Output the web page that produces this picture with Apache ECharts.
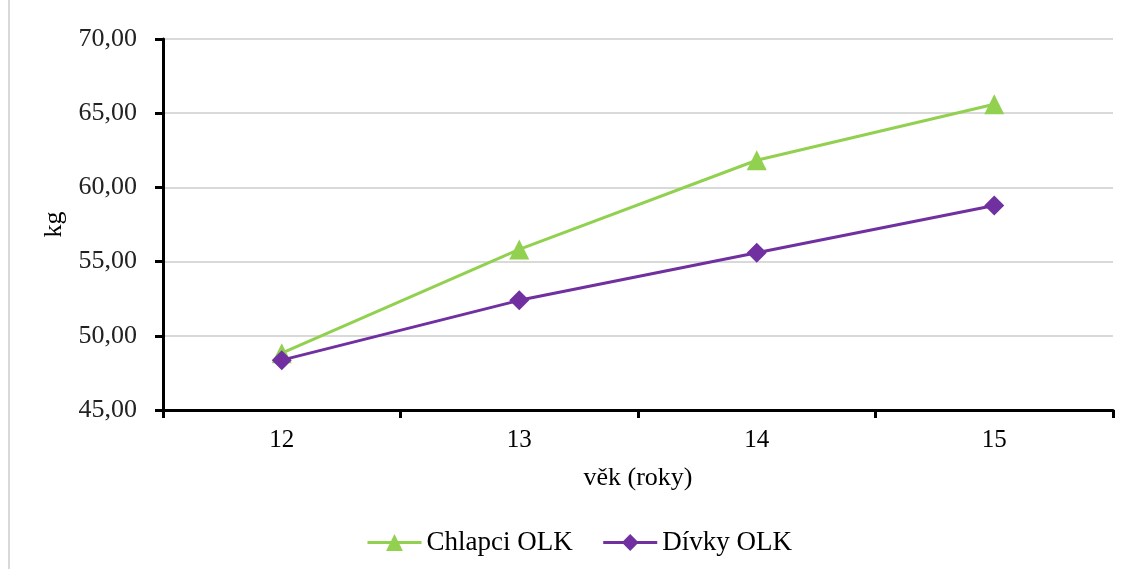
<!DOCTYPE html>
<html>
<head>
<meta charset="utf-8">
<script src="https://cdn.jsdelivr.net/npm/echarts@6/dist/echarts.min.js"></script>
<style>
  html, body { margin: 0; padding: 0; background: #fff; }
  #frame { position: absolute; left: 8px; top: 0; width: 2px; height: 569px; background: #d9d9d9; }
  #chart { position: absolute; left: 0; top: 0; width: 1132px; height: 569px; }
</style>
</head>
<body>
<div id="frame"></div>
<div id="chart"></div>
<script>
// Average body weight by age
const ages = ['12', '13', '14', '15'];
const boysWeight = [48.83, 55.82, 61.83, 65.6];
const girlsWeight = [48.36, 52.39, 55.6, 58.78];
const seriesNames = ['Chlapci OLK', 'Dívky OLK'];

const font = 'Liberation Serif, Times New Roman, serif';
const chart = echarts.init(document.getElementById('chart'), null, { renderer: 'canvas' });

chart.setOption({
  animation: false,
  textStyle: { fontFamily: font },
  grid: { left: 163, right: 19, top: 39, bottom: 159 },
  legend: {
    bottom: 8,
    left: 361,
    itemWidth: 54,
    itemHeight: 21,
    itemGap: 29,
    textStyle: { fontFamily: font, fontSize: 27, color: '#000', padding: [0, 0, 0, 0] },
    lineStyle: { width: 3 },
    data: seriesNames
  },
  xAxis: {
    type: 'category',
    data: ages,
    boundaryGap: true,
    name: 'věk (roky)',
    nameLocation: 'middle',
    nameGap: 55,
    nameTextStyle: { fontFamily: font, fontSize: 26, color: '#000' },
    axisLine: { lineStyle: { color: '#000', width: 3 } },
    axisTick: { show: true, length: 8, inside: false, lineStyle: { color: '#000', width: 3 } },
    axisLabel: { fontFamily: font, fontSize: 25, color: '#000', margin: 18 },
    splitLine: { show: false }
  },
  yAxis: {
    type: 'value',
    min: 45,
    max: 70,
    interval: 5,
    name: 'kg',
    nameLocation: 'middle',
    nameGap: 93,
    nameRotate: 90,
    nameTextStyle: { fontFamily: font, fontSize: 26, color: '#000' },
    axisLine: { show: true, lineStyle: { color: '#000', width: 3 } },
    axisTick: { show: true, length: 8, lineStyle: { color: '#000', width: 3 } },
    axisLabel: {
      fontFamily: font, fontSize: 26, color: '#222', margin: 26,
      formatter: v => v.toFixed(2).replace('.', ',')
    },
    splitLine: { show: true, lineStyle: { color: '#d9d9d9', width: 2 } }
  },
  series: [
    {
      name: seriesNames[0],
      type: 'line',
      data: boysWeight,
      symbol: 'triangle',
      symbolSize: 20,
      itemStyle: { color: '#92D050' },
      lineStyle: { color: '#92D050', width: 3 },
      z: 2
    },
    {
      name: seriesNames[1],
      type: 'line',
      data: girlsWeight,
      symbol: 'diamond',
      symbolSize: 20,
      itemStyle: { color: '#7030A0' },
      lineStyle: { color: '#7030A0', width: 3 },
      z: 3
    }
  ]
});
</script>
</body>
</html>
